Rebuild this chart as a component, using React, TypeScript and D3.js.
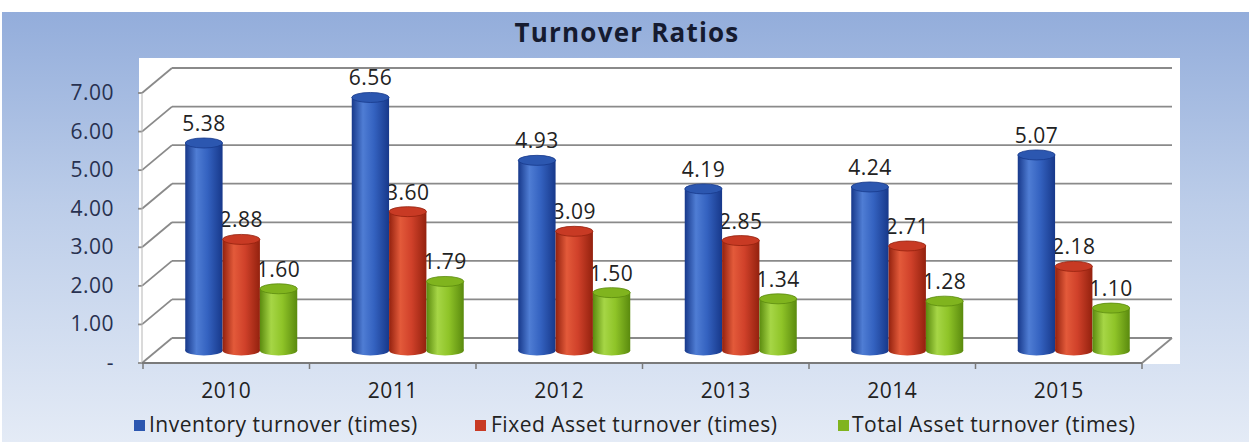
import React from "react";
import * as d3 from "d3";

const years = ["2010", "2011", "2012", "2013", "2014", "2015"];
const seriesNames = [
  "Inventory turnover (times)",
  "Fixed Asset turnover (times)",
  "Total Asset turnover (times)",
];
const inventory = [5.38, 6.56, 4.93, 4.19, 4.24, 5.07];
const fixedAsset = [2.88, 3.6, 3.09, 2.85, 2.71, 2.18];
const totalAsset = [1.6, 1.79, 1.5, 1.34, 1.28, 1.1];
const yTicks = [0, 1, 2, 3, 4, 5, 6, 7];

const seriesValues = [inventory, fixedAsset, totalAsset];
const colors = [
  { dark: "#17388a", mid: "#3462c0", light: "#4f7dd4", flat: "#2c57b0" },
  { dark: "#93210e", mid: "#d0412a", light: "#e35a3a", flat: "#c83a24" },
  { dark: "#5a8a0e", mid: "#8fc428", light: "#a6d646", flat: "#80b41e" },
];

const W = 1260;
const H = 442;
// 3d depth of the floor
const DX = 30;
const DY = -25;

export default function App() {
  const x = d3.scaleBand().domain(years).range([143, 1142]);
  const y = d3.scaleLinear().domain([0, 7]).range([363, 93]);
  const groupW = 112;
  const inner = d3.scaleBand().domain(["0", "1", "2"]).range([0, groupW]);
  const ry = 5;
  const fmt = (v: number) => (v === 0 ? "-" : d3.format(".2f")(v));
  const font = "'Open Sans', sans-serif";
  const txt = { fontSize: 21, letterSpacing: 0.5, fontFamily: font };

  const labels: JSX.Element[] = [];
  const bars: JSX.Element[] = [];
  years.forEach((yr, i) => {
    const gx = (x(yr) as number) + (x.bandwidth() - groupW) / 2 + DX / 2;
    seriesValues.forEach((vals, s) => {
      const v = vals[i];
      const bx = gx + (inner(String(s)) as number);
      const bw = inner.bandwidth();
      const cx = bx + bw / 2;
      const top = y(v) + DY / 2;
      const bottom = y(0) + DY / 2;
      labels.push(
        <text key={`l${i}-${s}`} x={cx} y={top - 12} textAnchor="middle"
          fill="#222" {...txt}>{fmt(v)}</text>
      );
      bars.push(
        <g key={`b${i}-${s}`}>
          <ellipse cx={cx} cy={bottom} rx={bw / 2} ry={ry} fill={`url(#cyl${s})`} />
          <rect x={bx} y={top} width={bw} height={bottom - top} fill={`url(#cyl${s})`} />
          <ellipse cx={cx} cy={top} rx={bw / 2} ry={ry} fill={colors[s].flat}
            stroke={colors[s].dark} strokeWidth={0.8} />
        </g>
      );
    });
  });

  const x0 = 142;
  const x1 = 1142;

  return (
    <svg width={W} height={H} style={{ position: "absolute", left: 0, top: 0 }}>
      <defs>
        <linearGradient id="bg" x1="0" y1="0" x2="0" y2="1">
          <stop offset="0%" stopColor="#93addb" />
          <stop offset="45%" stopColor="#bccde9" />
          <stop offset="100%" stopColor="#e4ebf6" />
        </linearGradient>
        {colors.map((c, s) => (
          <linearGradient key={s} id={`cyl${s}`} x1="0" y1="0" x2="1" y2="0">
            <stop offset="0%" stopColor={c.dark} />
            <stop offset="30%" stopColor={c.light} />
            <stop offset="60%" stopColor={c.mid} />
            <stop offset="100%" stopColor={c.dark} />
          </linearGradient>
        ))}
      </defs>
      <rect x={0} y={0} width={W} height={H} fill="#fff" />
      <rect x={2} y={12} width={1247} height={H - 12} fill="url(#bg)" />
      <rect x={139} y={58} width={1041} height={306} fill="#fff" />

      <text x={627} y={42} textAnchor="middle" fontSize={26} letterSpacing={1.2} fontWeight="bold"
        fill="#151b30" fontFamily={font}>Turnover Ratios</text>

      {/* back wall gridlines and side diagonals */}
      {yTicks.map((t) => (
        <g key={`g${t}`} stroke="#8a8a8a" strokeWidth={1.8} fill="none">
          <line x1={x0 + DX} x2={x1 + DX} y1={y(t) + DY} y2={y(t) + DY} />
          <line x1={x0} x2={x0 + DX} y1={y(t)} y2={y(t) + DY} />
          <line x1={x0 - 4} x2={x0} y1={y(t)} y2={y(t)} />
        </g>
      ))}
      <line x1={x0} x2={x0} y1={y(7)} y2={y(0)} stroke="#b5b5b5" strokeWidth={1} />
      <line x1={x1} x2={x1 + DX} y1={y(0)} y2={y(0) + DY} stroke="#8a8a8a" strokeWidth={1.8} />
      <line x1={x0} x2={x1} y1={y(0)} y2={y(0)} stroke="#7a7a7a" strokeWidth={2} />
      {years.concat(["end"]).map((yr, i) => {
        const tx = i < years.length ? (x(yr) as number) : x1;
        return <line key={`t${i}`} x1={tx} x2={tx} y1={y(0)} y2={y(0) + 6}
          stroke="#7a7a7a" strokeWidth={1.5} />;
      })}

      {yTicks.map((t) => (
        <text key={`yt${t}`} x={114} y={y(t) + 7} textAnchor="end"
          fill="#283150" {...txt}>{fmt(t)}</text>
      ))}

      {years.map((yr) => (
        <text key={`x${yr}`} x={(x(yr) as number) + x.bandwidth() / 2} y={398}
          textAnchor="middle" fill="#222" {...txt}>{yr}</text>
      ))}

      {labels}
      {bars}

      {[
        { sx: 134, tx: 149 },
        { sx: 475, tx: 491 },
        { sx: 838, tx: 852 },
      ].map((p, s) => (
        <g key={`lg${s}`}>
          <rect x={p.sx} y={420} width={11} height={11} fill={colors[s].flat} />
          <text x={p.tx} y={432} fill="#222" {...txt}>{seriesNames[s]}</text>
        </g>
      ))}
    </svg>
  );
}
